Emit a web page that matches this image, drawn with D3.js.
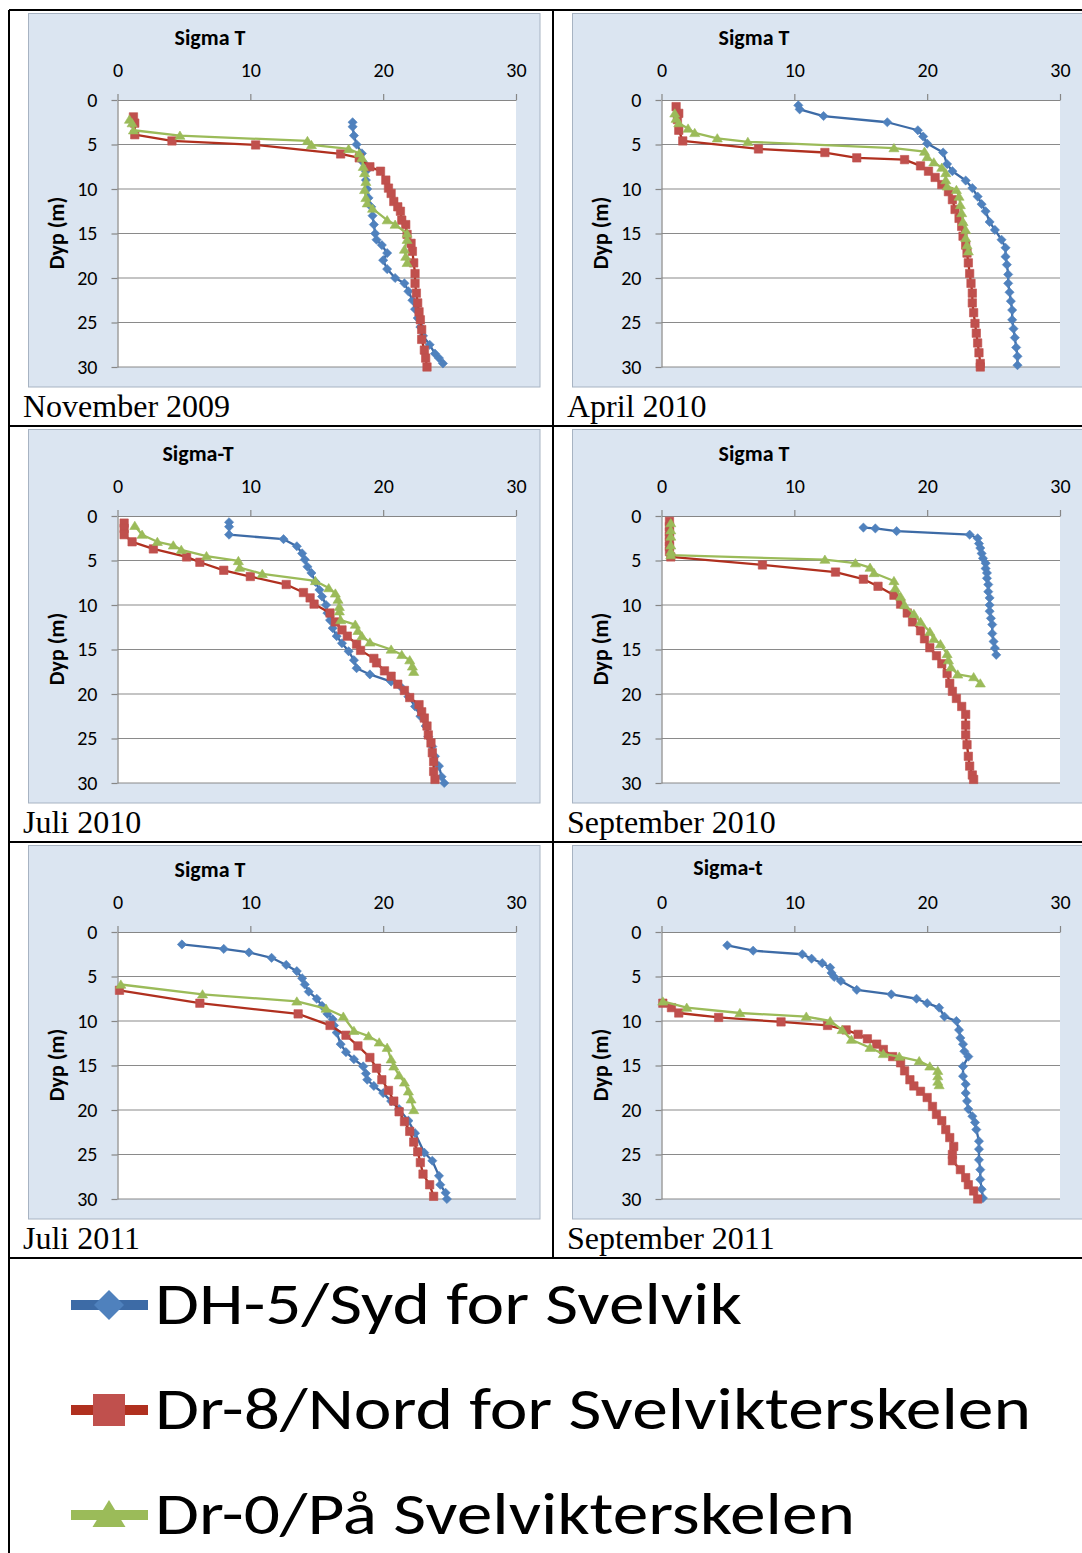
<!DOCTYPE html>
<html>
<head>
<meta charset="utf-8">
<script src="https://cdn.jsdelivr.net/npm/d3@7"></script>
<style>
body { margin: 0; background: #fff; }
svg { display: block; }
</style>
</head>
<body>
<script>
'use strict';

// ---- data: [sigma-T, depth (m)] ----
const nov09_dh5 = [[17.7,2.5],[17.7,3],[17.8,4],[18.0,5],[18.4,6],[18.5,7],[18.7,8],[18.7,9],[18.8,10],[18.9,11],[19.1,12],[19.2,13],[19.3,14],[19.4,15],[19.5,15.7],[19.9,16.3],[20.3,17.2],[20.0,18],[20.3,19],[20.9,20],[21.6,20.6],[21.9,21.5],[22.2,22.5],[22.4,23.5],[22.6,24.5],[22.8,25.5],[23.0,26.5],[23.5,27.5],[23.9,28.5],[24.2,29],[24.5,29.6]];
const nov09_dr8 = [[1.2,1.9],[1.3,2.6],[1.3,3.9],[4.1,4.6],[10.4,5.05],[16.8,6.06],[18.2,6.5],[19.0,7.5],[19.8,8.0],[20.2,9.0],[20.4,9.9],[20.6,10.5],[20.8,11.4],[21.1,12],[21.3,12.5],[21.4,13.5],[21.7,14],[21.8,15.1],[22.1,16.1],[22.2,17],[22.3,18.3],[22.4,19.5],[22.4,20.6],[22.5,21.7],[22.6,22.8],[22.7,23.8],[22.8,24.7],[22.9,25.8],[22.9,26.9],[23.1,28.1],[23.2,29],[23.3,30]];
const nov09_dr0 = [[0.9,2.2],[1.1,2.6],[1.2,3.4],[4.7,4.0],[14.3,4.6],[14.6,5.05],[17.4,5.5],[18.2,6.0],[18.4,6.5],[18.5,7.5],[18.6,8.2],[18.7,9.2],[18.6,10.1],[18.7,11.0],[18.8,11.6],[19.2,12.2],[20.3,13.5],[20.9,14.0],[21.8,15.0],[21.8,15.7],[21.6,16.8],[21.7,17.6],[21.8,18.3]];

const apr10_dh5 = [[10.3,0.6],[10.4,1.05],[12.2,1.8],[17.0,2.5],[19.3,3.4],[19.7,4.1],[20.0,4.9],[21.2,5.9],[21.5,7.2],[21.9,8.0],[22.9,9.05],[23.4,9.9],[23.8,10.85],[24.1,11.7],[24.4,12.5],[24.7,13.7],[25.1,14.6],[25.6,15.7],[25.9,16.6],[25.9,17.6],[26.0,18.5],[26.1,19.6],[26.1,20.6],[26.2,21.6],[26.3,22.6],[26.4,23.6],[26.4,24.7],[26.5,25.7],[26.6,26.7],[26.7,27.8],[26.8,28.8],[26.8,29.8]];
const apr10_dr8 = [[1.1,0.75],[1.3,1.5],[1.2,2.2],[1.3,3.4],[1.6,4.6],[7.3,5.5],[12.3,5.9],[14.7,6.5],[18.3,6.7],[19.5,7.4],[20.1,8.0],[20.6,8.7],[21.1,9.5],[21.6,10.3],[21.9,11.2],[22.1,12.3],[22.4,13.3],[22.6,14.2],[22.7,15.3],[22.9,16.3],[23.0,17.2],[23.1,18.3],[23.2,19.5],[23.3,20.6],[23.4,21.7],[23.4,22.8],[23.5,23.9],[23.6,25.1],[23.7,26.2],[23.8,27.3],[23.9,28.4],[24.0,29.6],[24.0,30]];
const apr10_dr0 = [[1.0,1.5],[1.1,2.1],[1.3,2.6],[2.0,3.2],[2.5,3.7],[4.2,4.3],[6.5,4.7],[17.5,5.4],[19.8,5.8],[20.0,6.4],[20.5,7.0],[21.1,7.6],[21.4,8.2],[21.4,9.0],[21.5,9.7],[22.2,10.1],[22.4,10.85],[22.5,11.8],[22.6,12.7],[22.7,13.7],[22.9,14.6],[22.9,15.5],[23.0,16.3],[23.1,17.0]];

const jul10_dh5 = [[8.4,0.7],[8.4,1.2],[8.4,2.1],[12.5,2.6],[13.5,3.4],[13.9,4.2],[14.1,4.9],[14.3,5.7],[14.6,6.4],[14.9,7.4],[15.2,8.3],[15.4,9.05],[15.7,10],[15.8,10.9],[16.0,11.7],[16.2,12.6],[16.5,13.5],[16.9,14.3],[17.4,15.2],[17.8,16.2],[18.0,17.1],[19.0,17.8],[20.6,18.6],[21.4,19.3],[21.9,20.3],[22.4,21.4],[22.8,22.5],[23.2,23.6],[23.4,24.8],[23.7,25.9],[23.9,27.0],[24.2,28.1],[24.4,29.3],[24.6,30]];
const jul10_dr8 = [[0.5,0.8],[0.5,1.4],[0.5,2.1],[1.1,2.9],[2.7,3.7],[5.2,4.6],[6.2,5.2],[8.0,6.1],[10.0,6.8],[12.7,7.7],[14.0,8.6],[14.5,9.2],[14.8,9.9],[16.0,10.9],[16.4,11.9],[16.9,12.8],[17.3,13.5],[18.0,14.4],[18.3,15.1],[19.3,16.0],[19.5,16.5],[20.1,17.4],[20.6,18.0],[21.1,18.9],[21.6,19.6],[22.0,20.4],[22.7,21.2],[22.9,22.0],[23.1,22.7],[23.3,23.6],[23.4,24.6],[23.6,25.5],[23.7,26.6],[23.8,27.6],[23.8,28.7],[23.9,29.6]];
const jul10_dr0 = [[1.3,1.1],[1.85,2.1],[3.0,2.9],[4.2,3.3],[4.8,3.8],[6.7,4.5],[9.1,5.05],[9.2,5.8],[10.9,6.5],[14.9,7.3],[15.9,8.1],[16.4,8.7],[16.6,9.4],[16.7,10.2],[16.7,10.7],[16.8,11.7],[17.9,12.2],[18.1,12.9],[18.4,13.5],[19.0,14.2],[20.6,15.0],[21.4,15.6],[22.0,16.2],[22.2,16.9],[22.3,17.5]];

const sep10_dh5 = [[15.2,1.3],[16.1,1.4],[17.7,1.7],[23.2,2.1],[23.8,2.5],[23.9,3.1],[24.0,3.6],[24.1,4.2],[24.2,4.75],[24.4,5.3],[24.4,5.9],[24.5,6.4],[24.5,7.0],[24.6,7.7],[24.6,8.5],[24.7,9.2],[24.7,10.0],[24.7,10.7],[24.8,11.5],[24.9,12.2],[24.9,13.2],[25.0,14.1],[25.1,14.85],[25.2,15.6]];
const sep10_dr8 = [[0.6,0.6],[0.6,1.2],[0.6,1.8],[0.6,2.3],[0.6,2.9],[0.6,3.4],[0.6,4.0],[0.7,4.6],[7.6,5.5],[13.1,6.3],[15.2,7.1],[16.3,7.9],[17.5,8.9],[18.0,9.9],[18.5,10.9],[18.9,11.9],[19.5,12.9],[19.8,13.8],[20.2,14.8],[20.7,15.7],[21.1,16.6],[21.5,17.7],[21.7,18.8],[21.9,19.7],[22.2,20.5],[22.6,21.4],[22.9,22.3],[22.9,23.5],[22.9,24.6],[23.0,25.7],[23.1,27.0],[23.2,28.1],[23.4,29.1],[23.5,29.6]];
const sep10_dr0 = [[0.7,0.8],[0.7,1.6],[0.7,2.3],[0.7,3.3],[0.7,4.0],[0.7,4.4],[12.3,4.9],[14.6,5.3],[15.7,5.8],[16.0,6.4],[17.5,7.3],[17.6,8.1],[18.0,9.05],[18.3,10.0],[19.0,11.0],[19.5,11.9],[20.2,13.0],[20.5,13.8],[21.0,14.4],[21.5,15.5],[21.6,16.2],[21.8,17.0],[22.3,17.8],[23.5,18.1],[24.0,18.8]];

const jul11_dh5 = [[4.85,1.4],[8.0,1.9],[9.9,2.3],[11.6,2.9],[12.7,3.7],[13.5,4.4],[13.9,5.2],[14.1,5.9],[14.4,6.7],[15.0,7.5],[15.4,8.3],[15.8,9.2],[16.2,9.8],[16.3,10.5],[16.5,11.3],[16.8,12.6],[17.2,13.5],[17.8,14.3],[18.5,15.1],[18.7,15.9],[18.8,16.6],[19.3,17.3],[20.0,18.1],[20.6,19.0],[21.2,19.9],[21.9,21.2],[22.4,22.6],[23.1,24.8],[23.7,25.7],[24.2,27.4],[24.3,28.4],[24.7,29.3],[24.8,30]];
const jul11_dr8 = [[0.15,6.55],[6.2,8.0],[13.6,9.2],[16.0,10.5],[17.2,11.6],[18.1,12.8],[19.0,14.1],[19.5,15.3],[19.9,16.6],[20.4,17.8],[20.8,19.0],[21.2,20.2],[21.6,21.3],[22.0,22.4],[22.3,23.6],[22.6,24.7],[22.8,25.9],[23.0,27.2],[23.5,28.4],[23.8,29.7]];
const jul11_dr0 = [[0.25,5.9],[6.4,7.0],[13.5,7.8],[15.7,8.6],[17.0,9.5],[17.8,11.1],[18.9,11.7],[19.7,12.4],[20.3,13.0],[20.6,14.3],[20.8,15.1],[21.2,16.1],[21.6,16.9],[21.9,17.9],[22.1,18.8],[22.3,20.0]];

const sep11_dh5 = [[4.95,1.5],[6.9,2.1],[10.6,2.5],[11.3,3.0],[12.1,3.5],[12.7,4.0],[12.8,4.6],[13.0,5.05],[13.5,5.5],[14.7,6.5],[17.3,7.0],[19.2,7.5],[20.0,8.0],[20.9,8.5],[21.3,9.5],[22.2,10.0],[22.4,11.0],[22.5,11.9],[22.7,12.6],[22.8,13.4],[23.1,14.0],[22.7,15.1],[22.7,16.2],[22.9,17.1],[22.9,18.1],[23.0,19.0],[23.1,19.9],[23.4,20.7],[23.6,21.4],[23.7,22.2],[23.9,23.5],[23.9,24.4],[23.9,25.6],[24.0,26.7],[24.0,27.8],[24.1,28.9],[24.2,29.9]];
const sep11_dr8 = [[0.1,8.0],[0.75,8.5],[1.3,9.1],[4.3,9.6],[9.0,10.1],[12.5,10.5],[13.9,11.0],[14.8,11.5],[15.5,12.0],[16.2,12.6],[16.7,13.2],[17.4,14.0],[18.0,14.7],[18.3,15.6],[18.7,16.6],[19.0,17.3],[19.5,17.9],[20.0,18.6],[20.4,19.6],[20.7,20.5],[21.1,21.2],[21.4,22.2],[21.7,23.1],[22.0,24.1],[21.9,25.0],[21.9,25.7],[22.5,26.7],[22.9,27.6],[23.1,28.4],[23.5,29.1],[23.8,30]];
const sep11_dr0 = [[0.1,7.8],[1.9,8.5],[5.9,9.1],[10.9,9.5],[12.7,10.0],[13.6,11.0],[14.3,12.1],[15.7,13.0],[16.7,13.7],[17.9,14.0],[19.4,14.5],[20.2,15.1],[20.8,15.6],[20.8,16.2],[20.8,16.8],[20.9,17.2]];

const captions = ["November 2009", "April 2010", "Juli 2010", "September 2010", "Juli 2011", "September 2011"];
const titles = ["Sigma T", "Sigma T", "Sigma-T", "Sigma T", "Sigma T", "Sigma-t"];
const xTicks = [0, 10, 20, 30];
const yTicks = [0, 5, 10, 15, 20, 25, 30];
const legendLabels = ["DH-5/Syd for Svelvik", "Dr-8/Nord for Svelvikterskelen", "Dr-0/På Svelvikterskelen"];

const panelData = [
  [nov09_dh5, nov09_dr8, nov09_dr0],
  [apr10_dh5, apr10_dr8, apr10_dr0],
  [jul10_dh5, jul10_dr8, jul10_dr0],
  [sep10_dh5, sep10_dr8, sep10_dr0],
  [jul11_dh5, jul11_dr8, jul11_dr0],
  [sep11_dh5, sep11_dr8, sep11_dr0]
];

// ---- styling ----
const W = 1082, H = 1553;
const sansFont = "Carlito, Calibri, Lato, sans-serif";
const serifFont = "'Liberation Serif', 'Times New Roman', serif";
const series = [
  { line: "#3D6BA6", fill: "#4F81BD", shape: "diamond" },
  { line: "#B0301F", fill: "#C0504D", shape: "square" },
  { line: "#9BBB59", fill: "#9BBB59", shape: "triangle" }
];

function markerPath(shape, s) {
  if (shape === "diamond") return `M0,${-s}L${s},0L0,${s}L${-s},0Z`;
  if (shape === "square") return `M${-s},${-s}H${s}V${s}H${-s}Z`;
  return `M0,${-s}L${s*1.1},${s*0.8}H${-s*1.1}Z`;
}
const markerSize = { diamond: 4.6, square: 4.2, triangle: 4.6 };

const svg = d3.select("body").append("svg")
    .attr("width", W)
    .attr("height", H);

// panel geometry (top-left panel), others are offsets
const colOff = [0, 544];
const rowOff = [0, 416, 832];

let x = d3.scaleLinear().domain([0, 30]).range([117.5, 516]);
let y = d3.scaleLinear().domain([0, 30]).range([100, 367]);

panelData.forEach(function (data, i) {
  let g = svg.append("g")
      .attr("transform", `translate(${colOff[i % 2]},${rowOff[Math.floor(i / 2)]})`);

  // chart background
  g.append("rect")
      .attr("x", 28.5).attr("y", 13.5)
      .attr("width", 511.5).attr("height", 373.5)
      .attr("fill", "#DBE5F1")
      .attr("stroke", "#A7B3C2");

  // plot area
  g.append("rect")
      .attr("x", x(0)).attr("y", y(0))
      .attr("width", x(30) - x(0)).attr("height", y(30) - y(0))
      .attr("fill", "#fff");

  // horizontal gridlines
  g.selectAll(".grid").data(yTicks.slice(1)).enter()
    .append("line")
      .attr("x1", x(0)).attr("x2", x(30))
      .attr("y1", d => y(d)).attr("y2", d => y(d))
      .attr("stroke", "#8A8A8A")
      .attr("stroke-width", 1.2);

  // top axis
  let top = g.append("g")
      .attr("transform", `translate(0,${y(0)})`)
      .call(d3.axisTop(x).tickValues(xTicks).tickSize(6).tickSizeOuter(0).tickPadding(17));
  // left axis
  let left = g.append("g")
      .attr("transform", `translate(${x(0)},0)`)
      .call(d3.axisLeft(y).tickValues(yTicks).tickSize(6).tickSizeOuter(0).tickPadding(14));

  [top, left].forEach(function (ax) {
    ax.selectAll("path, line").attr("stroke", "#868686").attr("stroke-width", 1.2);
    ax.selectAll("text")
        .attr("fill", "#000")
        .style("font-family", sansFont)
        .style("font-size", "20px");
  });

  // titles
  g.append("text")
      .attr("x", titles[i] === "Sigma T" ? 210 : (titles[i] === "Sigma-T" ? 198 : 184))
      .attr("y", i === 5 ? 43 : 45)
      .attr("text-anchor", "middle")
      .style("font-family", sansFont)
      .style("font-weight", "bold")
      .style("font-size", "22px")
      .text(titles[i]);

  g.append("text")
      .attr("transform", "translate(64,233) rotate(-90)")
      .attr("text-anchor", "middle")
      .style("font-family", sansFont)
      .style("font-weight", "bold")
      .style("font-size", "22px")
      .text("Dyp (m)");

  // series
  let line = d3.line().x(d => x(d[0])).y(d => y(d[1]));
  data.forEach(function (pts, k) {
    let s = series[k];
    g.append("path")
        .datum(pts)
        .attr("d", line)
        .attr("fill", "none")
        .attr("stroke", s.line)
        .attr("stroke-width", 2.3)
        .attr("stroke-linejoin", "round");
    g.selectAll(".m" + k).data(pts).enter()
      .append("path")
        .attr("transform", d => `translate(${x(d[0])},${y(d[1])})`)
        .attr("d", markerPath(s.shape, markerSize[s.shape]))
        .attr("fill", s.fill)
        .attr("stroke", s.fill)
        .attr("stroke-width", 0.6);
  });

  // caption under chart
  g.append("text")
      .attr("x", 23)
      .attr("y", 417)
      .style("font-family", serifFont)
      .style("font-size", "32px")
      .text(captions[i]);
});

// table borders
let table = svg.append("g")
    .attr("stroke", "#000")
    .attr("stroke-width", 2)
    .attr("fill", "none");
table.append("path").attr("d", "M9,10H1082");
table.append("path").attr("d", "M9,10V1553");
table.append("path").attr("d", "M553,10V1258");
[426, 842, 1258].forEach(function (yy) {
  table.append("path").attr("d", `M9,${yy}H1082`);
});

// legend
const legendWidths = [587, 876, 700];
legendLabels.forEach(function (label, k) {
  let cy = 1305 + k * 105;
  let s = series[k];
  svg.append("line")
      .attr("x1", 71).attr("x2", 148)
      .attr("y1", cy).attr("y2", cy)
      .attr("stroke", s.line)
      .attr("stroke-width", 10);
  svg.append("path")
      .attr("transform", `translate(109,${cy})`)
      .attr("d", markerPath(s.shape, s.shape === "square" ? 16 : 15))
      .attr("fill", s.fill);
  svg.append("text")
      .attr("x", 155)
      .attr("y", cy + 19)
      .attr("textLength", legendWidths[k])
      .attr("lengthAdjust", "spacingAndGlyphs")
      .style("font-family", sansFont)
      .style("font-size", "60px")
      .text(label);
});
</script>
</body>
</html>
